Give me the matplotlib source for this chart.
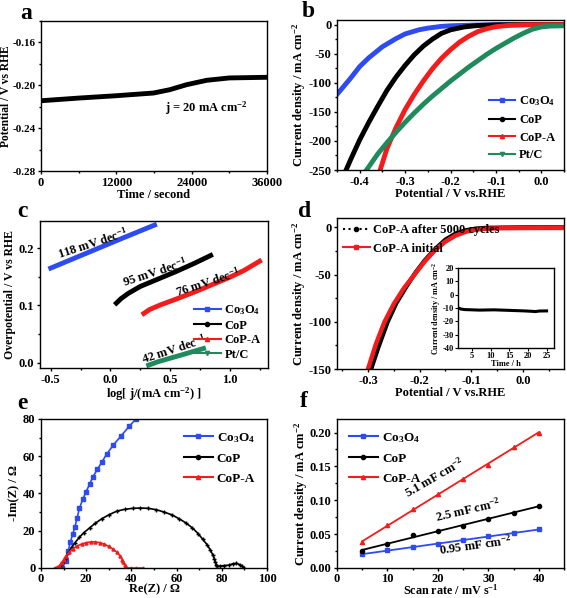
import numpy as np
import matplotlib
matplotlib.use("Agg")
import matplotlib.pyplot as plt
from matplotlib.ticker import MultipleLocator
from matplotlib.lines import Line2D

plt.rcParams['font.family'] = ['Liberation Serif', 'DejaVu Serif']
plt.rcParams['font.weight'] = 'bold'
plt.rcParams['axes.labelweight'] = 'bold'
plt.rcParams['mathtext.default'] = 'regular'
plt.rcParams['axes.unicode_minus'] = False
plt.rcParams['font.size'] = 9
plt.rcParams['axes.linewidth'] = 1.0

BLUE = '#2d4bf0'
BLACK = '#000000'
RED = '#f21c1c'
GREEN = '#1f8a5c'

# ---- data ----
# a: chronopotentiometry
t_a = [0, 6000, 12000, 17900, 20500, 23200, 26400, 30000, 36000]
v_a = [-0.2144, -0.2119, -0.2097, -0.2072, -0.2041, -0.1994, -0.1953, -0.1931, -0.1925]

# b: polarization curves
b_co3o4_x = [-0.45, -0.42, -0.40, -0.38, -0.35, -0.32, -0.30, -0.27, -0.25, -0.22, -0.20, -0.15, -0.10, 0.0, 0.05]
b_co3o4_y = [-120, -92, -72, -57, -38, -24, -16, -9, -6, -3, -2, -0.8, -0.3, 0, 0]
b_cop_x = [-0.43, -0.42, -0.40, -0.38, -0.36, -0.34, -0.32, -0.30, -0.28, -0.26, -0.24, -0.22, -0.20, -0.17, -0.14, -0.10, -0.05, 0.05]
b_cop_y = [-250, -232, -198, -168, -140, -113, -90, -70, -52, -37, -25, -15, -9, -4, -1.5, -0.3, 0, 0]
b_copa_x = [-0.355, -0.34, -0.32, -0.30, -0.28, -0.26, -0.24, -0.22, -0.20, -0.18, -0.16, -0.14, -0.12, -0.10, -0.07, -0.04, 0.0, 0.05]
b_copa_y = [-250, -213, -177, -146, -120, -97, -76, -58, -43, -30, -20, -12, -7, -3.5, -1.2, -0.3, 0, 0]
b_ptc_x = [-0.385, -0.36, -0.34, -0.32, -0.30, -0.28, -0.26, -0.24, -0.22, -0.20, -0.18, -0.16, -0.14, -0.12, -0.10, -0.08, -0.06, -0.04, -0.02, 0.0, 0.02, 0.05]
b_ptc_y = [-250, -222, -203, -185, -168, -152, -137, -123, -110, -97, -85, -73, -62, -51, -41, -32, -23, -15, -8, -4, -2.5, -2]

# c: Tafel plots
c_co3o4_x = [-0.5, -0.2, 0.1, 0.37]
c_co3o4_y = [0.165, 0.191, 0.217, 0.240]
c_cop_x = [0.05, 0.09, 0.15, 0.25, 0.4, 0.55, 0.7, 0.84]
c_cop_y = [0.104, 0.112, 0.121, 0.133, 0.146, 0.159, 0.173, 0.187]
c_copa_x = [0.28, 0.33, 0.42, 0.55, 0.7, 0.85, 1.0, 1.12, 1.25]
c_copa_y = [0.086, 0.093, 0.101, 0.111, 0.123, 0.136, 0.149, 0.161, 0.177]
c_ptc_x = [0.32, 0.4, 0.5, 0.6, 0.78]
c_ptc_y = [-0.004, 0.002, 0.008, 0.014, 0.025]
tafel_labels = ['118 mV dec$^{-1}$', '95 mV dec$^{-1}$', '76 mV dec$^{-1}$', '42 mV dec$^{-1}$']

# d: stability
d_init_x = [-0.300, -0.285, -0.268, -0.25, -0.23, -0.21, -0.19, -0.17, -0.15, -0.13, -0.11, -0.09, -0.07, -0.04, 0.0, 0.08]
d_init_y = [-150, -124, -100, -81, -64, -50, -36, -24, -15, -8.5, -4.5, -2.2, -1.3, -0.8, -0.6, -0.5]
d_after_x = [-0.294, -0.28, -0.262, -0.245, -0.225, -0.208, -0.19, -0.17, -0.15, -0.13, -0.11, -0.09, -0.07, -0.04, 0.0, 0.08]
d_after_y = [-150, -127, -100, -80, -62, -48, -35, -23, -13, -6.5, -3, -1.2, -0.5, -0.2, 0, 0]
inset_t = [1.3, 2, 3, 5, 7, 9, 11, 13, 15, 17, 19, 21, 22, 23, 25]
inset_j = [-10, -10.8, -11.2, -11.4, -11.6, -11.5, -11.4, -11.6, -11.8, -12, -12.2, -12.5, -12.7, -12.3, -12.2]

# e: Nyquist plots
e_co3o4_x = [9.5, 11, 12, 13, 14, 15, 16, 17, 18.5, 20, 21.5, 23, 25, 27, 29, 32, 35.5, 39, 42]
e_co3o4_y = [0, 4, 9, 14, 18, 22, 27, 32, 37, 41, 45, 49, 53, 57, 61, 66, 71, 76, 80]
e_cop_x = [8, 9, 10, 11, 12, 13.5, 15, 17, 19, 21.5, 24, 27, 30, 33.5, 37, 40.5, 44, 47.5, 51, 54.5, 58, 61, 64, 67,
           69.5, 71.5, 73.5, 75, 76, 76.7, 77.2, 77.6, 78, 79, 81, 83, 85, 86.5, 88, 89, 90]
e_cop_y = [0, 1.5, 3.5, 5.5, 8, 11, 13.5, 16.5, 19, 21.5, 24, 26.5, 28.5, 30.5, 31.5, 32, 32.2, 32, 31.3, 30, 28.5, 26.5,
           24.3, 21.5, 18.5, 15.5, 12.5, 9.5, 7, 5, 3, 1.5, 0.8, 1, 1.3, 1.5, 2.3, 2.5, 1.8, 1, 0]
e_copa_x = [6, 7, 8, 9, 10, 11, 12.5, 14, 16, 18, 20, 22, 24, 26, 28, 30, 32, 33.5, 35, 36, 36.5, 37, 37.3, 37.6, 38, 40, 42, 45]
e_copa_y = [0, 0.3, 1, 2.5, 4.5, 6.5, 8.5, 10.3, 11.8, 12.9, 13.6, 14, 14, 13.6, 12.8, 11.6, 10, 8.5, 6.5, 4.5, 3, 1.5, 0.5, 0, 0, 0, 0, 0]

# f: double-layer capacitance
scan_rate = [5, 10, 15, 20, 25, 30, 35, 40]
f_co3o4 = [0.020, 0.026, 0.031, 0.036, 0.041, 0.047, 0.051, 0.057]
f_cop = [0.025, 0.036, 0.048, 0.055, 0.062, 0.072, 0.081, 0.092]
f_copa = [0.038, 0.063, 0.087, 0.109, 0.131, 0.152, 0.179, 0.200]
cdl_labels = ['0.95 mF cm$^{-2}$', '2.5 mF cm$^{-2}$', '5.1 mF cm$^{-2}$']

names4 = ['Co$_3$O$_4$', 'CoP', 'CoP-A', 'Pt/C']
colors4 = [BLUE, BLACK, RED, GREEN]
markers4 = ['s', 'o', '^', 'v']


def style(ax):
    ax.tick_params(which='both', direction='out', width=1.0, pad=1.5)
    ax.tick_params(which='major', length=2.5)
    ax.tick_params(which='minor', length=1.5)


def leg_handles(n):
    return [Line2D([], [], color=colors4[i], marker=markers4[i], markersize=3, lw=1.5) for i in range(n)]


def panel_label(x, y, s):
    fig.text(x, y, s, fontsize=17, fontweight='bold', ha='center', va='center')


fig = plt.figure(figsize=(5.67, 5.98), dpi=100)

# ---- a ----
ax = fig.add_axes([0.0723, 0.7140, 0.3986, 0.2508])
ax.plot(t_a, v_a, color='black', lw=3.5)
ax.set_xlim(0, 36000)
ax.set_ylim(-0.28, -0.14)
ax.set_xticks([0, 12000, 24000, 36000])
ax.xaxis.set_minor_locator(MultipleLocator(6000))
ax.set_yticks([-0.28, -0.24, -0.20, -0.16])
ax.yaxis.set_minor_locator(MultipleLocator(0.02))
ax.set_xlabel('Time / second', labelpad=0)
ax.set_ylabel('Potential / V vs RHE', fontsize=8.3)
ax.yaxis.set_label_coords(-0.128, 0.5)
ax.text(26400, -0.2213, 'j = 20 mA cm$^{-2}$', ha='center', va='center')
style(ax)
ax.tick_params(axis='y', labelsize=8)
panel_label(0.047, 0.978, 'a')

# ---- b ----
ax = fig.add_axes([0.5944, 0.7157, 0.4004, 0.2509])
for xs, ys, c in zip([b_co3o4_x, b_cop_x, b_copa_x, b_ptc_x], [b_co3o4_y, b_cop_y, b_copa_y, b_ptc_y], colors4):
    ax.plot(xs, ys, color=c, lw=3.5)
ax.set_xlim(-0.45, 0.05)
ax.set_ylim(-250, 8)
ax.set_xticks([-0.4, -0.3, -0.2, -0.1, 0.0])
ax.set_xticklabels(['-0.4', '-0.3', '-0.2', '-0.1', '0.0'])
ax.xaxis.set_minor_locator(MultipleLocator(0.05))
ax.yaxis.set_major_locator(MultipleLocator(50))
ax.yaxis.set_minor_locator(MultipleLocator(25))
ax.set_xlabel('Potential / V vs.RHE', labelpad=0)
ax.set_ylabel('Current density / mA cm$^{-2}$', labelpad=0)
ax.legend(leg_handles(4), names4, loc='lower right', frameon=False, fontsize=9,
          handlelength=2.1, handletextpad=0.3, labelspacing=0.45, borderaxespad=0.3)
style(ax)
panel_label(0.543, 0.980, 'b')

# ---- c ----
ax = fig.add_axes([0.0705, 0.3846, 0.4021, 0.2458])
cx = [c_co3o4_x, c_cop_x, c_copa_x, c_ptc_x]
cy = [c_co3o4_y, c_cop_y, c_copa_y, c_ptc_y]
for xs, ys, c in zip(cx, cy, colors4):
    ax.plot(xs, ys, color=c, lw=3.5)
ax.set_xlim(-0.59, 1.32)
ax.set_ylim(-0.009, 0.247)
ax.xaxis.set_major_locator(MultipleLocator(0.5))
ax.xaxis.set_minor_locator(MultipleLocator(0.25))
ax.yaxis.set_major_locator(MultipleLocator(0.1))
ax.yaxis.set_minor_locator(MultipleLocator(0.05))
ax.set_xlabel('log[ j/(mA cm$^{-2}$) ]', labelpad=0)
ax.set_ylabel('Overpotential / V vs RHE', fontsize=8.5)
ax.yaxis.set_label_coords(-0.105, 0.5)
for (tx, ty), lab in zip([(-0.15, 0.209), (0.37, 0.157), (0.82, 0.140), (0.53, 0.023)], tafel_labels):
    ax.text(tx, ty, lab, ha='center', va='center', rotation=18)
ax.legend(leg_handles(4), names4, loc='lower right', frameon=False, fontsize=9,
          handlelength=2.1, handletextpad=0.3, labelspacing=0.2, borderaxespad=0.2)
style(ax)
panel_label(0.039, 0.647, 'c')

# ---- d ----
ax = fig.add_axes([0.5944, 0.3829, 0.4004, 0.2525])
ax.plot(d_after_x, d_after_y, color='black', lw=3.2)
ax.plot(d_init_x, d_init_y, color=RED, lw=3.2)
ax.set_xlim(-0.36, 0.08)
ax.set_ylim(-150, 10)
ax.set_xticks([-0.3, -0.2, -0.1, 0.0])
ax.set_xticklabels(['-0.3', '-0.2', '-0.1', '0.0'])
ax.xaxis.set_minor_locator(MultipleLocator(0.05))
ax.yaxis.set_major_locator(MultipleLocator(50))
ax.yaxis.set_minor_locator(MultipleLocator(25))
ax.set_xlabel('Potential / V vs.RHE', labelpad=0)
ax.set_ylabel('Current density / mA cm$^{-2}$', labelpad=0)
h_after = Line2D([], [], color='black', ls=':', lw=1.5, marker='o', markersize=3)
h_init = Line2D([], [], color=RED, lw=1.5, marker='s', markersize=3)
ax.legend([h_after, h_init], ['CoP-A after 5000 cycles', 'CoP-A initial'], loc='upper left', frameon=False,
          fontsize=9, handlelength=2.1, handletextpad=0.3, labelspacing=0.5, borderaxespad=0.1)
style(ax)
panel_label(0.538, 0.647, 'd')

axi = fig.add_axes([0.8078, 0.4181, 0.1693, 0.1338])
axi.plot(inset_t, inset_j, color='black', lw=2.2)
axi.set_xlim(1.2, 27)
axi.set_ylim(-40, 20)
axi.set_xticks([5, 10, 15, 20, 25])
axi.set_yticks([-40, -30, -20, -10, 0, 10, 20])
axi.tick_params(labelsize=6, direction='out', length=2, width=0.8, pad=1)
axi.set_xlabel('Time / h', fontsize=6, labelpad=0)
axi.set_ylabel('Current density / mA cm$^{-2}$', fontsize=5.8, labelpad=0)

# ---- e ----
ax = fig.add_axes([0.0723, 0.0502, 0.3986, 0.2492])
ax.plot(e_co3o4_x, e_co3o4_y, color=BLUE, lw=1.2, marker='s', markersize=2.2)
ax.plot(e_cop_x, e_cop_y, color='black', lw=1.2, marker='+', markersize=3)
ax.plot(e_copa_x, e_copa_y, color=RED, lw=1.2, marker='^', markersize=2.2)
ax.set_xlim(0, 100)
ax.set_ylim(0, 80)
ax.xaxis.set_major_locator(MultipleLocator(20))
ax.xaxis.set_minor_locator(MultipleLocator(10))
ax.yaxis.set_major_locator(MultipleLocator(20))
ax.yaxis.set_minor_locator(MultipleLocator(10))
ax.set_xlabel('Re(Z) / Ω', labelpad=-1)
ax.set_ylabel('-Im(Z) / Ω', labelpad=2)
ax.legend(leg_handles(3), names4[:3], loc='upper right', frameon=False, fontsize=9.5,
          handlelength=2.2, handletextpad=0.3, labelspacing=0.6, borderaxespad=0.5)
style(ax)
ax.tick_params(axis='x', pad=1)
panel_label(0.039, 0.326, 'e')

# ---- f ----
ax = fig.add_axes([0.5944, 0.0502, 0.4004, 0.2492])
fvals = [f_co3o4, f_cop, f_copa]
for ys, c, m in zip(fvals, colors4, markers4):
    k, b0 = np.polyfit(scan_rate, ys, 1)
    xs = np.array([scan_rate[0], scan_rate[-1]])
    ax.plot(xs, k * xs + b0, color=c, lw=1.3)
    ax.plot(scan_rate, ys, color=c, lw=0, marker=m, markersize=3)
ax.set_xlim(0, 45)
ax.set_ylim(0, 0.22)
ax.xaxis.set_major_locator(MultipleLocator(10))
ax.xaxis.set_minor_locator(MultipleLocator(5))
ax.set_yticks([0, 0.05, 0.10, 0.15, 0.20])
ax.set_yticklabels(['0.00', '0.05', '0.10', '0.15', '0.20'])
ax.yaxis.set_minor_locator(MultipleLocator(0.025))
ax.set_xlabel('Scan rate / mV s$^{-1}$', fontsize=8.7, labelpad=-1)
ax.set_ylabel('Current density / mA cm$^{-2}$', labelpad=0)
for (tx, ty, rot), lab in zip([(27.5, 0.034, 8), (25.9, 0.085, 13), (19.3, 0.133, 30)], cdl_labels):
    ax.text(tx, ty, lab, ha='center', va='center', rotation=rot)
ax.legend(leg_handles(3), names4[:3], loc='upper left', frameon=False, fontsize=9.5,
          handlelength=2.2, handletextpad=0.3, labelspacing=0.6, borderaxespad=0.5)
style(ax)
ax.tick_params(axis='x', pad=1)
panel_label(0.535, 0.328, 'f')

fig.savefig('out.png', dpi=100)
